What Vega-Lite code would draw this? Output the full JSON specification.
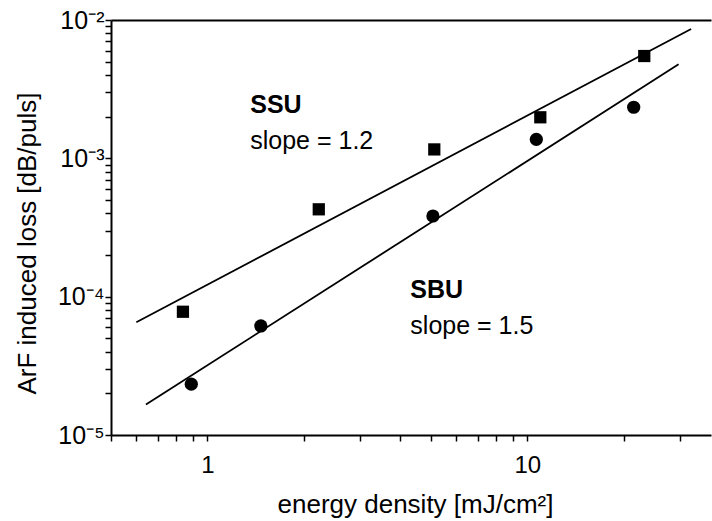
{
  "$schema": "https://vega.github.io/schema/vega-lite/v6.json",
  "width": 600,
  "height": 415,
  "autosize": {"type": "none"},
  "padding": {"left": 111, "top": 20, "right": 1, "bottom": 86},
  "background": "white",
  "config": {
    "view": {"stroke": null},
    "font": "Liberation Sans",
    "axis": {
      "grid": false,
      "domainColor": "black",
      "domainWidth": 2,
      "tickColor": "black",
      "tickWidth": 1.5,
      "labelColor": "black",
      "titleColor": "black",
      "labelFont": "Liberation Sans",
      "titleFont": "Liberation Sans",
      "titleFontWeight": "normal",
      "labelOverlap": false,
      "labelBound": false,
      "labelFlush": false
    }
  },
  "datasets": {
    "measured": [
      {"sample": "SSU", "energy": 0.839, "loss": 7.78e-5},
      {"sample": "SSU", "energy": 2.23, "loss": 4.28e-4},
      {"sample": "SSU", "energy": 5.12, "loss": 1.16e-3},
      {"sample": "SSU", "energy": 10.98, "loss": 1.98e-3},
      {"sample": "SSU", "energy": 23.2, "loss": 5.49e-3},
      {"sample": "SBU", "energy": 0.891, "loss": 2.33e-5},
      {"sample": "SBU", "energy": 1.47, "loss": 6.14e-5},
      {"sample": "SBU", "energy": 5.07, "loss": 3.83e-4},
      {"sample": "SBU", "energy": 10.67, "loss": 1.37e-3},
      {"sample": "SBU", "energy": 21.5, "loss": 2.34e-3}
    ],
    "fits": [
      {"sample": "SSU", "energy": 0.6, "loss": 6.53e-5},
      {"sample": "SSU", "energy": 32.5, "loss": 8.61e-3},
      {"sample": "SBU", "energy": 0.643, "loss": 1.66e-5},
      {"sample": "SBU", "energy": 29.7, "loss": 4.78e-3}
    ],
    "names": [
      {"text": "SSU", "energy": 1.362, "loss": 2.127e-3},
      {"text": "SBU", "energy": 4.31, "loss": 9.78e-5}
    ],
    "slopes": [
      {"text": "slope = 1.2", "energy": 1.362, "loss": 1.168e-3},
      {"text": "slope = 1.5", "energy": 4.31, "loss": 5.37e-5}
    ]
  },
  "layer": [
    {
      "data": {"name": "fits"},
      "mark": {"type": "line", "color": "black", "strokeWidth": 1.8},
      "encoding": {
        "x": {
          "field": "energy",
          "type": "quantitative",
          "scale": {"type": "log", "domain": [0.5, 37.5], "nice": false},
          "axis": {"orient": "top", "labels": false, "ticks": false, "title": null, "domain": true}
        },
        "y": {
          "field": "loss",
          "type": "quantitative",
          "scale": {"type": "log", "domain": [1e-5, 1e-2], "nice": false},
          "axis": {
            "title": "ArF induced loss [dB/puls]",
            "titleFontSize": 26,
            "titleAngle": 270,
            "titleBaseline": "alphabetic",
            "titleAlign": "center",
            "titleX": -76,
            "titleY": 223,
            "values": [1e-5, 2e-5, 3e-5, 4e-5, 5e-5, 6e-5, 7e-5, 8e-5, 9e-5,
                       1e-4, 2e-4, 3e-4, 4e-4, 5e-4, 6e-4, 7e-4, 8e-4, 9e-4,
                       1e-3, 2e-3, 3e-3, 4e-3, 5e-3, 6e-3, 7e-3, 8e-3, 9e-3, 1e-2],
            "labelExpr": "datum.value === 0.01 ? '10⁻²' : datum.value === 0.001 ? '10⁻³' : datum.value === 0.0001 ? '10⁻⁴' : datum.value === 0.00001 ? '10⁻⁵' : ''",
            "labelFontSize": 25,
            "tickSize": 6,
            "labelPadding": 1
          }
        },
        "detail": {"field": "sample"}
      }
    },
    {
      "data": {"name": "measured"},
      "mark": {"type": "point", "filled": true, "color": "black", "opacity": 1},
      "encoding": {
        "x": {
          "field": "energy",
          "type": "quantitative",
          "scale": {"type": "log", "domain": [0.5, 37.5], "nice": false},
          "axis": {
            "orient": "bottom",
            "title": "energy density [mJ/cm²]",
            "titleFontSize": 26,
            "titleBaseline": "alphabetic",
            "titleAlign": "center",
            "titleX": 304,
            "titleY": 77,
            "values": [0.5, 0.6, 0.7, 0.8, 0.9, 1, 2, 3, 4, 5, 6, 7, 8, 9, 10, 20, 30],
            "labelExpr": "datum.value === 1 ? '1' : datum.value === 10 ? '10' : ''",
            "labelFontSize": 24,
            "tickSize": 6,
            "labelPadding": 12
          }
        },
        "y": {"field": "loss", "type": "quantitative"},
        "shape": {
          "field": "sample",
          "type": "nominal",
          "scale": {"domain": ["SSU", "SBU"], "range": ["square", "circle"]},
          "legend": null
        },
        "size": {
          "field": "sample",
          "type": "nominal",
          "scale": {"domain": ["SSU", "SBU"], "range": [150, 175]},
          "legend": null
        }
      }
    },
    {
      "data": {"name": "names"},
      "mark": {"type": "text", "align": "left", "baseline": "alphabetic", "fontSize": 25, "fontWeight": "bold", "color": "black"},
      "encoding": {
        "x": {"field": "energy", "type": "quantitative", "axis": null},
        "y": {"field": "loss", "type": "quantitative"},
        "text": {"field": "text"}
      }
    },
    {
      "data": {"name": "slopes"},
      "mark": {"type": "text", "align": "left", "baseline": "alphabetic", "fontSize": 25, "color": "black"},
      "encoding": {
        "x": {"field": "energy", "type": "quantitative", "axis": null},
        "y": {"field": "loss", "type": "quantitative"},
        "text": {"field": "text"}
      }
    }
  ],
  "resolve": {"axis": {"x": "independent"}}
}
